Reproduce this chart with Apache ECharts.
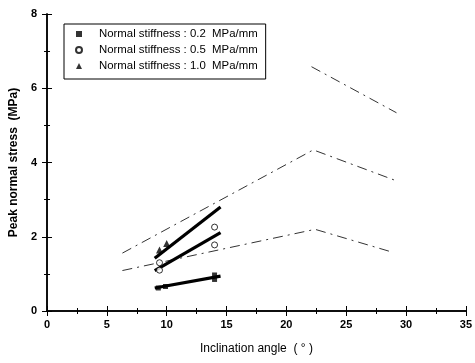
<!DOCTYPE html>
<html>
<head>
<meta charset="utf-8">
<script src="https://cdn.jsdelivr.net/npm/echarts@6/dist/echarts.min.js"></script>
<style>
  html, body { margin: 0; padding: 0; background: #fff; }
  #chart { width: 475px; height: 363px; }
</style>
</head>
<body>
<div id="chart"></div>
<script>
// measured points
const names = ['Normal stiffness : 0.2  MPa/mm', 'Normal stiffness : 0.5  MPa/mm', 'Normal stiffness : 1.0  MPa/mm'];
const s02Angle = [9.3, 9.9, 14.0, 14.0];
const s02Stress = [0.62, 0.66, 0.97, 0.85];
const s05Angle = [9.4, 9.4, 14.0, 14.0];
const s05Stress = [1.1, 1.3, 2.26, 1.78];
const s10Angle = [9.4, 10.0];
const s10Stress = [1.64, 1.82];

// fitted lines (thick)
const fitAngle = [9.0, 14.5];
const fit02 = [0.62, 0.94];
const fit05 = [1.09, 2.11];
const fit10 = [1.42, 2.80];

// predicted curves (dash-dot)
const pred02Angle = [6.3, 22.4, 28.8];
const pred02 = [1.09, 2.20, 1.59];
const pred05Angle = [6.3, 22.25, 29.0];
const pred05 = [1.56, 4.34, 3.53];
const pred10Angle = [22.1, 29.2];
const pred10 = [6.58, 5.34];

const xTicks = [0, 5, 10, 15, 20, 25, 30, 35];
const yTicks = [0, 2, 4, 6, 8];

const zip = (xs, ys) => xs.map((x, i) => [x, ys[i]]);
const font = 'Liberation Sans, Arial, sans-serif';

const myChart = echarts.init(document.getElementById('chart'), null, { renderer: 'canvas' });

const axisLine = { show: true, lineStyle: { color: '#000', width: 1.5 } };
const tick = { show: true, inside: true, length: 5, lineStyle: { color: '#000', width: 1 } };
const minor = { show: true, splitNumber: 2, length: 3, lineStyle: { color: '#000', width: 1 } };

const fitLine = ys => ({
  type: 'line', data: zip(fitAngle, ys), showSymbol: false, silent: true,
  lineStyle: { color: '#000', width: 3.2 }, z: 3,
});
const predLine = (xs, ys) => ({
  type: 'line', data: zip(xs, ys), showSymbol: false, silent: true,
  lineStyle: { color: '#333', width: 1, type: [10, 5, 2, 5] }, z: 2,
});

const option = {
  animation: false,
  backgroundColor: '#fff',
  grid: { left: 47, right: 8, top: 14, bottom: 52, containLabel: false },
  legend: {
    data: names,
    orient: 'vertical',
    left: 64, top: 24,
    padding: [2, 8, 5, 11],
    itemWidth: 6, itemHeight: 6, itemGap: 0,
    borderColor: '#000', borderWidth: 1,
    textStyle: { fontFamily: font, fontSize: 11.4, color: '#000', lineHeight: 16, padding: [0, 0, 0, 12] },
  },
  xAxis: [
    {
      type: 'value', min: 0, max: 35, interval: 5,
      name: 'Inclination angle  ( ° )', nameLocation: 'middle', nameGap: 32,
      nameTextStyle: { fontFamily: font, fontSize: 12, color: '#000' },
      axisLine, axisTick: tick, minorTick: minor, splitLine: { show: false },
      axisLabel: { margin: 8, fontFamily: font, fontSize: 11, fontWeight: 'bold', color: '#000',
        formatter: v => (xTicks.includes(v) ? String(v) : '') },
    },
    {
      type: 'value', position: 'top', min: 0, max: 35, interval: 5,
      axisLine, axisTick: tick, minorTick: minor, splitLine: { show: false },
      axisLabel: { show: false },
    },
  ],
  yAxis: [
    {
      type: 'value', min: 0, max: 8, interval: 2,
      name: 'Peak normal stress  (MPa)', nameLocation: 'middle', nameGap: 24,
      nameTextStyle: { fontFamily: font, fontSize: 12, fontWeight: 'bold', color: '#000' },
      axisLine, axisTick: tick, minorTick: minor, splitLine: { show: false },
      axisLabel: { margin: 10, fontFamily: font, fontSize: 11, fontWeight: 'bold', color: '#000',
        formatter: v => (yTicks.includes(v) ? String(v) : '') },
    },
    {
      type: 'value', position: 'right', min: 0, max: 8, interval: 2,
      axisLine, axisTick: tick, minorTick: minor, splitLine: { show: false },
      axisLabel: { show: false },
    },
  ],
  series: [
    predLine(pred02Angle, pred02),
    predLine(pred05Angle, pred05),
    predLine(pred10Angle, pred10),
    fitLine(fit02),
    fitLine(fit05),
    fitLine(fit10),
    {
      name: names[0], type: 'scatter', data: zip(s02Angle, s02Stress),
      symbol: 'rect', symbolSize: 5, itemStyle: { color: '#000' }, z: 4,
    },
    {
      name: names[1], type: 'scatter', data: zip(s05Angle, s05Stress),
      symbol: 'circle', symbolSize: 6,
      itemStyle: { color: '#fff', borderColor: '#000', borderWidth: 1 }, z: 4,
    },
    {
      name: names[2], type: 'scatter', data: zip(s10Angle, s10Stress),
      symbol: 'triangle', symbolSize: 7, itemStyle: { color: '#000' }, z: 4,
    },
  ],
};

myChart.setOption(option);
</script>
</body>
</html>
